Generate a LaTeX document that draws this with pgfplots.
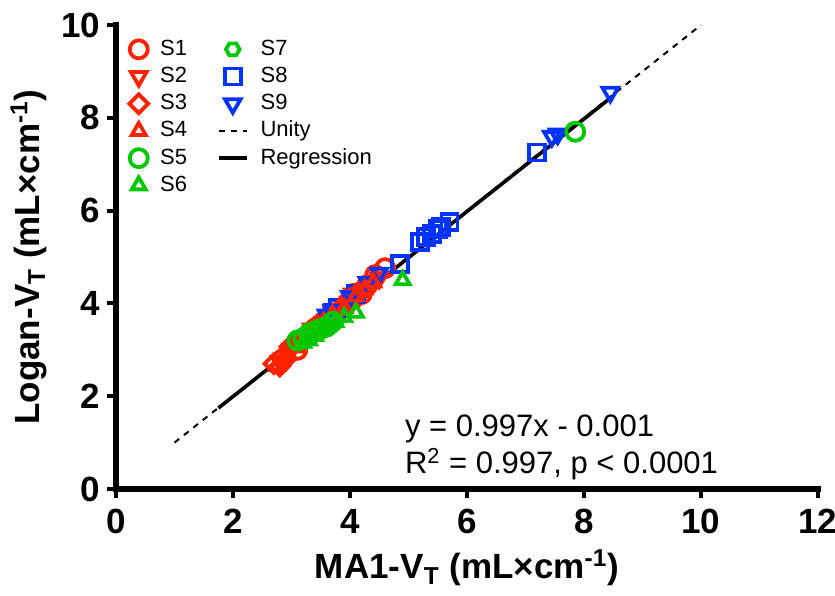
\documentclass[border=0pt]{standalone}
\usepackage{fontspec}
\setmainfont{Liberation Sans}
\usepackage{pgfplots}
\pgfplotsset{compat=1.18}

\definecolor{sred}{RGB}{255,34,0}
\definecolor{sgreen}{RGB}{0,200,0}
\definecolor{sblue}{RGB}{0,51,255}

% flat-topped hexagon mark (S7)
\pgfdeclareplotmark{hexagon}{%
  \pgfpathmoveto{\pgfpointpolar{0}{\pgfplotmarksize}}%
  \pgfpathlineto{\pgfpointpolar{60}{\pgfplotmarksize}}%
  \pgfpathlineto{\pgfpointpolar{120}{\pgfplotmarksize}}%
  \pgfpathlineto{\pgfpointpolar{180}{\pgfplotmarksize}}%
  \pgfpathlineto{\pgfpointpolar{240}{\pgfplotmarksize}}%
  \pgfpathlineto{\pgfpointpolar{300}{\pgfplotmarksize}}%
  \pgfpathclose
  \pgfusepathqstroke}

\begin{document}
\begin{tikzpicture}
\useasboundingbox (-58pt,-53pt) rectangle (359.5pt,244.5pt);
\begin{axis}[
    scale only axis,
    width=351pt, height=232pt,
    xmin=0, xmax=12, ymin=0, ymax=10,
    xtick={0,2,...,12}, ytick={0,2,...,10},
    axis lines=left,
    axis line style={-, line width=2.6pt, line cap=rect},
    tick align=outside,
    major tick length=4.5pt,
    every tick/.style={black, line width=2pt},
    /pgf/number format/assume math mode=true,
    tick label style={font=\bfseries\fontsize{17.5}{17.5}\selectfont},
    xticklabel style={yshift=-2pt},
    xlabel={MA1-V\textsubscript{T} (mL×cm\textsuperscript{-1})},
    ylabel={Logan-V\textsubscript{T} (mL×cm\textsuperscript{-1})},
    label style={font=\bfseries\fontsize{17.5}{17.5}\selectfont},
    xlabel style={yshift=-1pt},
    clip=false,
    legend columns=2,
    legend cell align=left,
    legend image code/.code={\draw[mark repeat=2,mark phase=2,#1]
        plot coordinates {(0pt,0pt)(7pt,0pt)(14pt,0pt)};},
    legend style={draw=none, fill=none,
        at={(0.01,0.985)}, anchor=north west,
        font=\fontsize{11}{11}\selectfont,
        nodes={inner sep=1pt, text height=8.5pt, text depth=2.5pt},
        row sep=0.6pt, column sep=5pt,
        /tikz/every even column/.append style={column sep=14pt}},
    every axis plot/.append style={line width=1.9pt},
]
% S1
\addplot[only marks, sred, mark=o, mark size=4.5pt] coordinates {
  (2.85,2.8) (3.1,3.0) (3.3,3.3) (3.45,3.5) (3.6,3.55) (3.76,3.79) (3.95,4.0)
  (4.05,4.1) (4.2,4.2) (4.3,4.4) (4.43,4.61) (4.6,4.76)
};
\addlegendentry{S1}
% S7
\addplot[only marks, sgreen, mark=hexagon, mark size=3.4pt] coordinates {
  (3.0,3.05) (3.15,3.1) (3.25,3.2) (3.35,3.3) (3.45,3.4) (3.65,3.55) (3.8,3.7)
};
\addlegendentry{S7}
% S2
\addplot[only marks, sred, mark=triangle, mark options={rotate=180}, mark size=4.5pt] coordinates {
  (2.8,2.75) (2.95,2.95) (3.0,3.0) (3.2,3.25) (3.35,3.45) (3.5,3.5) (3.7,3.8)
  (3.9,3.95) (4.05,4.2) (4.2,4.3) (4.35,4.45) (4.5,4.55)
};
\addlegendentry{S2}
% S8
\addplot[only marks, sblue, mark=square, mark size=4pt] coordinates {
  (3.7,3.8) (3.8,3.9) (4.1,4.2) (4.85,4.85) (5.2,5.32) (5.3,5.43) (5.4,5.5)
  (5.5,5.6) (5.55,5.65) (5.7,5.75) (7.2,7.25)
};
\addlegendentry{S8}
% S3
\addplot[only marks, sred, mark=square, mark options={rotate=45}, mark size=3.3pt] coordinates {
  (2.7,2.7) (2.8,2.65) (2.9,2.8) (3.0,3.1) (3.15,3.2) (3.3,3.4) (3.45,3.55)
  (3.6,3.7) (3.8,3.85) (4.0,4.1) (4.15,4.25) (4.3,4.35)
};
\addlegendentry{S3}
% S9
\addplot[only marks, sblue, mark=triangle, mark options={rotate=180}, mark size=4.5pt] coordinates {
  (3.6,3.75) (3.7,3.85) (4.0,4.15) (4.3,4.45) (4.5,4.65) (7.45,7.6) (7.55,7.65) (8.45,8.55)
};
\addlegendentry{S9}
% S4
\addplot[only marks, sred, mark=triangle, mark size=4pt] coordinates {
  (2.75,2.65) (2.95,2.9) (3.1,3.05) (3.25,3.3) (3.4,3.45) (3.55,3.6) (3.7,3.75)
  (3.9,3.9) (4.1,4.15) (4.25,4.3) (4.4,4.45)
};
\addlegendentry{S4}
% unity line
\addplot[black, dashed, line width=1pt] coordinates {(1,1) (10,10)};
\addlegendentry{Unity}
% S5
\addplot[only marks, sgreen, mark=o, mark size=4.5pt] coordinates {
  (3.1,3.2) (3.2,3.25) (3.3,3.35) (3.4,3.4) (3.5,3.45) (3.6,3.5) (3.7,3.6) (7.85,7.7)
};
\addlegendentry{S5}
% regression line y = 0.997x - 0.001
\addplot[black, line width=1.8pt] coordinates {(1.75,1.744) (8.5,8.474)};
\addlegendentry{Regression}
% S6
\addplot[only marks, sgreen, mark=triangle, mark size=4pt] coordinates {
  (3.2,3.15) (3.3,3.2) (3.4,3.3) (3.6,3.5) (3.75,3.6) (3.9,3.7) (4.1,3.8) (4.9,4.5)
};
\addlegendentry{S6}

\node[anchor=base west, font=\fontsize{15.5}{15.5}\selectfont] at (axis cs:4.82,1.13) {y = 0.997x - 0.001};
\node[anchor=base west, font=\fontsize{15.5}{15.5}\selectfont] at (axis cs:4.82,0.33) {R\textsuperscript{2} = 0.997, p < 0.0001};
\end{axis}
\end{tikzpicture}
\end{document}
